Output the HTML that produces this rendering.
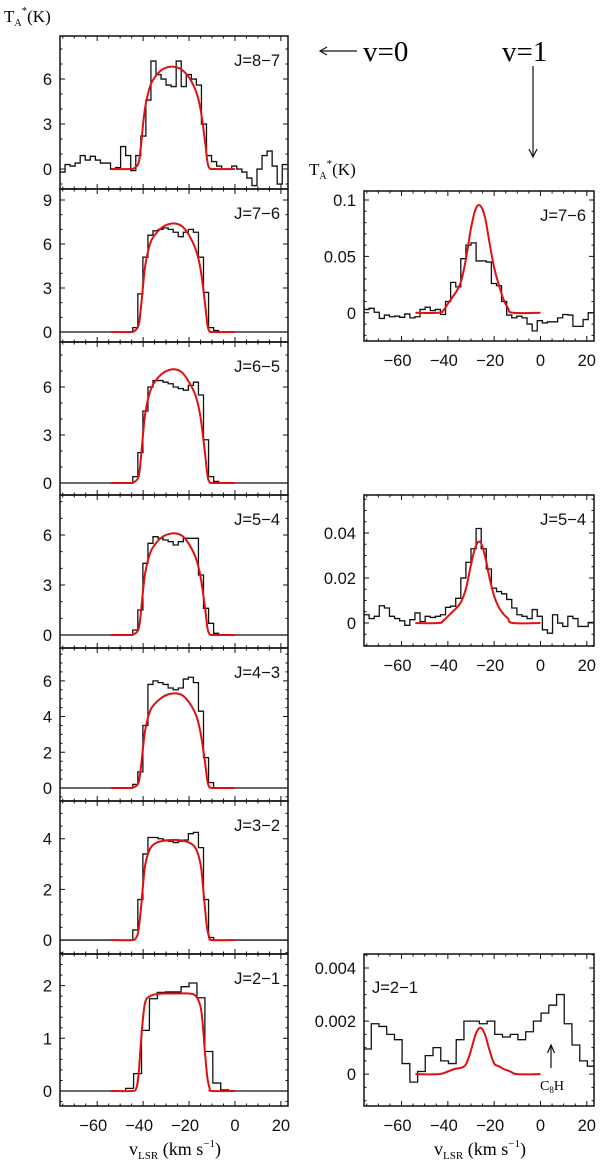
<!DOCTYPE html>
<html><head><meta charset="utf-8"><title>Line profiles</title>
<style>
html,body{margin:0;padding:0;background:#fff;}
svg{display:block;font-family:"Liberation Sans",sans-serif;}
.tk{font-size:16.5px;fill:#111;}
.ser{font-family:"Liberation Serif",serif;}
</style></head>
<body>
<svg id="chart" width="600" height="1165" viewBox="0 0 600 1165" xmlns="http://www.w3.org/2000/svg">
  <g>
    <text class="ser" x="4" y="22" font-size="17">T<tspan font-size="10" dy="4">A</tspan><tspan font-size="11" dy="-12">*</tspan><tspan dy="8">(K)</tspan></text>
    <text class="ser" x="309" y="175" font-size="17">T<tspan font-size="10" dy="4">A</tspan><tspan font-size="11" dy="-12">*</tspan><tspan dy="8">(K)</tspan></text>
    <line x1="357" y1="51" x2="321" y2="51" stroke="#111" stroke-width="1.2"/>
    <path d="M327,47 L320,51 L327,55" fill="none" stroke="#111" stroke-width="1.2"/>
    <text class="ser" x="363" y="61" font-size="29">v=0</text>
    <text class="ser" x="502" y="61" font-size="29">v=1</text>
    <line x1="533" y1="66" x2="533" y2="156" stroke="#111" stroke-width="1.2"/>
    <path d="M529,149 L533,157 L537,149" fill="none" stroke="#111" stroke-width="1.2"/>
  </g>
  <g id="plots"></g>
</svg>
<script>
// ---------- shared axis data ----------
const xTickValues = [-60, -40, -20, 0, 20];
const xTickLabels = ["\u221260", "\u221240", "\u221220", "0", "20"];

// ---------- v=0 spectra (left column) ----------
const j87Vel = [-75.1,-72.9,-70.7,-68.5,-66.3,-64.1,-61.9,-59.7,-57.5,-55.3,-53.1,-50.9,-48.7,-46.5,-44.3,-42.1,-39.9,-37.7,-35.5,-33.3,-31.1,-28.9,-26.7,-24.5,-22.3,-20.1,-17.9,-15.7,-13.5,-11.3,-9.1,-6.9,-4.7,-2.5,-0.3,1.9,4.1,6.3,8.5,10.7,12.9,15.1,17.3,19.5,21.7];
const j87Obs = [-0.2,0.3,0.2,0.4,0.9,0.6,0.85,0.6,0.4,0.4,0.0,0.1,1.5,0.9,-0.1,0.9,2.2,4.6,7.2,6.3,6.0,5.6,5.5,7.2,5.5,6.3,6.0,5.6,3.0,0.9,0.5,0.2,0.0,0.0,0.2,0.0,-0.2,-0.6,-1.1,0.0,0.9,1.2,0.2,-1.0,0.3];

const midVel = [-43.4,-41.2,-39.0,-36.8,-34.6,-32.4,-30.2,-28.0,-25.8,-23.6,-21.4,-19.2,-17.0,-14.8,-12.6,-10.4,-8.2];
const j76Obs = [0.3,2.6,5.1,6.6,6.9,7.0,7.1,7.0,6.8,6.5,6.8,7.0,6.8,5.1,2.7,0.3,0.1];
const j65Obs = [0.4,1.9,4.5,6.0,6.4,6.4,6.3,6.2,6.0,5.9,5.8,6.1,6.3,5.5,2.7,0.4,0.1];
const j54Obs = [0.3,1.5,4.3,5.5,5.9,5.8,5.7,5.6,5.4,5.6,5.8,5.8,5.8,3.6,1.6,0.7,0.1];
const j43Obs = [0.2,0.9,3.5,5.8,6.0,5.9,5.8,5.6,5.5,5.6,6.1,6.2,5.9,4.3,1.7,0.3,0.0];
const j32Obs = [0.4,1.6,3.4,4.05,4.05,4.0,3.95,3.9,3.85,3.9,3.95,4.2,4.25,3.65,1.6,0.1,0.0];
const j21Vel = [-45.9,-42.4,-39.0,-35.5,-32.1,-28.6,-25.2,-21.7,-18.3,-14.8,-11.4,-7.9,-4.5];
const j21Obs = [0.05,0.33,1.15,1.75,1.87,1.88,1.88,1.98,2.05,1.77,0.75,0.15,0.02];

const modelVel = [-54,-46,-44,-42,-41,-40,-39,-37,-35,-32,-29,-26,-23,-20,-17,-15,-13,-12,-11,-9,0];
const j87Model = [0,0,0.05,0.4,1.5,3.0,4.2,5.5,6.1,6.6,6.8,6.8,6.6,6.1,5.2,4.0,1.8,0.5,0.05,0,0];
const j76Model = [0,0,0.05,0.45,1.6,3.2,4.6,6.0,6.6,7.1,7.35,7.4,7.2,6.6,5.6,4.3,1.9,0.5,0.05,0,0];
const j65Model = [0,0,0.05,0.4,1.5,3.1,4.4,5.7,6.3,6.8,7.05,7.1,6.9,6.3,5.4,4.1,1.8,0.5,0.05,0,0];
const j54Model = [0,0,0.05,0.35,1.3,2.7,3.8,4.9,5.4,5.85,6.05,6.1,5.95,5.45,4.6,3.5,1.6,0.45,0.05,0,0];
const j43Model = [0,0,0.04,0.3,1.1,2.3,3.3,4.3,4.7,5.05,5.25,5.3,5.2,4.8,4.1,3.1,1.4,0.4,0.04,0,0];
const flatModelVel = [-54,-45,-43,-42,-41,-40,-39,-37,-34,-30,-25,-20,-17,-15,-14,-13,-12,-11,-10,0];
const j32Model = [0,0,0.1,0.4,1.2,2.2,3.0,3.6,3.85,3.93,3.95,3.85,3.6,3.0,2.2,1.2,0.4,0.1,0,0];
const j21Model = [0,0,0.05,0.3,0.9,1.4,1.7,1.8,1.84,1.85,1.85,1.85,1.8,1.6,1.25,0.7,0.25,0.05,0,0];

// ---------- v=1 spectra (right column) ----------
const v1Vel = j87Vel;
const v1j76Obs = [0.003,0.004,0.0005,-0.005,-0.002,-0.0035,-0.003,-0.004,-0.001,-0.0045,-0.0035,0.003,0.005,0.002,0.003,-0.0015,0.01,0.027,0.023,0.048,0.06,0.062,0.046,0.046,0.045,0.026,0.024,0.01,-0.002,-0.0045,-0.003,-0.0045,-0.01,-0.016,-0.007,-0.009,-0.008,-0.008,-0.0045,-0.0015,-0.002,-0.012,-0.012,-0.006,0.0];
const v1j54Obs = [0.0037,0.002,0.003,0.0077,0.0067,0.003,0.002,0.001,-0.001,0.0015,0.0045,0.0007,0.003,0.0025,0.003,0.0037,0.007,0.0075,0.011,0.02,0.027,0.033,0.042,0.033,0.024,0.0155,0.014,0.013,0.0105,0.0067,0.0037,0.003,0.002,0.006,0.003,-0.003,-0.0045,0.0037,0.0,-0.0015,0.003,0.002,-0.0015,-0.0015,0.0003];
const v1j21Vel = [-74.7,-71.4,-68.1,-64.7,-61.4,-58.1,-54.7,-51.4,-48.1,-44.7,-41.4,-38.1,-34.7,-31.4,-28.1,-24.7,-21.4,-18.1,-14.7,-11.4,-8.1,-4.7,-1.4,1.9,5.3,8.6,11.9,15.3,18.6,21.9];
const v1j21Obs = [0.00095,0.0019,0.0018,0.0015,0.0013,0.0004,-0.0003,0.0001,0.0007,0.001,0.0005,0.0004,0.0013,0.002,0.002,0.0019,0.002,0.0015,0.0014,0.0015,0.0013,0.0016,0.002,0.0023,0.0026,0.003,0.0019,0.0011,0.0005,0.0003];

const v1ModelVel = [-54,-44,-42,-40,-38,-36,-34,-32,-30,-28,-26,-24,-22,-20,-18,-16,-14,-12,0];
const v1j76Model = [0,0,0.002,0.008,0.014,0.02,0.03,0.05,0.075,0.092,0.095,0.085,0.062,0.04,0.025,0.012,0.004,0,0];
const v1j54Model = [0,0,0.001,0.003,0.005,0.007,0.01,0.016,0.026,0.034,0.036,0.03,0.02,0.012,0.007,0.004,0.002,0,0];
const v1j21ModelVel = [-54,-44,-40,-37,-34,-32,-30,-28,-26,-24,-22,-20,-18,-16,-13,-10,0];
const v1j21Model = [0,0,0.0001,0.0002,0.00025,0.0004,0.0009,0.0015,0.00175,0.0015,0.0009,0.0004,0.0003,0.0002,0.0001,0,0];

const yTicksA = [0,3,6];        const yLabelsA = ["0","3","6"];
const yTicksB = [0,3,6,9];      const yLabelsB = ["0","3","6","9"];
const yTicksC = [0,2,4,6];      const yLabelsC = ["0","2","4","6"];
const yTicksD = [0,2,4];        const yLabelsD = ["0","2","4"];
const yTicksE = [0,1,2];        const yLabelsE = ["0","1","2"];
const yTicksR1 = [0,0.05,0.1];  const yLabelsR1 = ["0","0.05","0.1"];
const yTicksR2 = [0,0.02,0.04]; const yLabelsR2 = ["0","0.02","0.04"];
const yTicksR3 = [0,0.002,0.004]; const yLabelsR3 = ["0","0.002","0.004"];

// ---------- layout (not data) ----------
const XMIN = -76.2, XMAX = 23.1;
const panels = [
 {name:"j87-v0",x0:60,x1:288,y0:36,y1:189,ymin:-1.33,ymax:8.87,yt:yTicksA,yl:yLabelsA,minor:1,vel:j87Vel,obs:j87Obs,w:2.2,mv:modelVel,mt:j87Model,label:"J=8\u22127",lx:280,la:"end",xl:false,base:false},
 {name:"j76-v0",x0:60,x1:288,y0:189,y1:342,ymin:-0.68,ymax:9.75,yt:yTicksB,yl:yLabelsB,minor:1,vel:midVel,obs:j76Obs,w:2.2,mv:modelVel,mt:j76Model,label:"J=7\u22126",lx:280,la:"end",xl:false,base:true},
 {name:"j65-v0",x0:60,x1:288,y0:342,y1:495,ymin:-0.75,ymax:8.81,yt:yTicksA,yl:yLabelsA,minor:1,vel:midVel,obs:j65Obs,w:2.2,mv:modelVel,mt:j65Model,label:"J=6\u22125",lx:280,la:"end",xl:false,base:true},
 {name:"j54-v0",x0:60,x1:288,y0:495,y1:648,ymin:-0.78,ymax:8.4,yt:yTicksA,yl:yLabelsA,minor:1,vel:midVel,obs:j54Obs,w:2.2,mv:modelVel,mt:j54Model,label:"J=5\u22124",lx:280,la:"end",xl:false,base:true},
 {name:"j43-v0",x0:60,x1:288,y0:648,y1:801,ymin:-0.73,ymax:7.84,yt:yTicksC,yl:yLabelsC,minor:0.5,vel:midVel,obs:j43Obs,w:2.2,mv:modelVel,mt:j43Model,label:"J=4\u22123",lx:280,la:"end",xl:false,base:true},
 {name:"j32-v0",x0:60,x1:288,y0:801,y1:954,ymin:-0.55,ymax:5.49,yt:yTicksD,yl:yLabelsD,minor:0.5,vel:midVel,obs:j32Obs,w:2.2,mv:flatModelVel,mt:j32Model,label:"J=3\u22122",lx:280,la:"end",xl:false,base:true},
 {name:"j21-v0",x0:60,x1:288,y0:954,y1:1106,ymin:-0.285,ymax:2.6,yt:yTicksE,yl:yLabelsE,minor:0.2,vel:j21Vel,obs:j21Obs,w:3.45,mv:flatModelVel,mt:j21Model,label:"J=2\u22121",lx:280,la:"end",xl:true,base:true},
 {name:"j76-v1",x0:364,x1:594,y0:191,y1:341,ymin:-0.025,ymax:0.108,yt:yTicksR1,yl:yLabelsR1,minor:0.01,vel:v1Vel,obs:v1j76Obs,w:2.2,mv:v1ModelVel,mt:v1j76Model,label:"J=7\u22126",lx:586,la:"end",xl:true,base:false},
 {name:"j54-v1",x0:364,x1:594,y0:495,y1:646,ymin:-0.0102,ymax:0.0569,yt:yTicksR2,yl:yLabelsR2,minor:0.005,vel:v1Vel,obs:v1j54Obs,w:2.2,mv:v1ModelVel,mt:v1j54Model,label:"J=5\u22124",lx:586,la:"end",xl:true,base:false},
 {name:"j21-v1",x0:364,x1:594,y0:954,y1:1106,ymin:-0.0012,ymax:0.00453,yt:yTicksR3,yl:yLabelsR3,minor:0.0005,vel:v1j21Vel,obs:v1j21Obs,w:3.33,mv:v1j21ModelVel,mt:v1j21Model,label:"J=2\u22121",lx:372,la:"start",xl:true,base:false}
];

const NS = "http://www.w3.org/2000/svg";
const root = document.getElementById("plots");
function mk(parent, tag, attrs){
  const e = document.createElementNS(NS, tag);
  for (const k in attrs) e.setAttribute(k, attrs[k]);
  parent.appendChild(e);
  return e;
}
function smoothPath(pts){
  let d = "M" + pts[0][0].toFixed(2) + "," + pts[0][1].toFixed(2);
  for (let i = 0; i < pts.length - 1; i++){
    const p0 = pts[Math.max(i-1,0)], p1 = pts[i], p2 = pts[i+1], p3 = pts[Math.min(i+2,pts.length-1)];
    const t = 0.18;
    const c1x = p1[0] + (p2[0]-p0[0])*t, c1y = p1[1] + (p2[1]-p0[1])*t;
    const c2x = p2[0] - (p3[0]-p1[0])*t, c2y = p2[1] - (p3[1]-p1[1])*t;
    d += " C" + c1x.toFixed(2)+","+c1y.toFixed(2)+" "+c2x.toFixed(2)+","+c2y.toFixed(2)+" "+p2[0].toFixed(2)+","+p2[1].toFixed(2);
  }
  return d;
}

panels.forEach(function(p, idx){
  const X = v => p.x0 + (v - XMIN) / (XMAX - XMIN) * (p.x1 - p.x0);
  const Y = t => p.y1 - (t - p.ymin) / (p.ymax - p.ymin) * (p.y1 - p.y0);
  const g = mk(root, "g", {});
  
  

  const cid = "clip" + idx;
  const cp = mk(g, "clipPath", {id: cid});
  mk(cp, "rect", {x: p.x0, y: p.y0, width: p.x1 - p.x0, height: p.y1 - p.y0});

  let d = "";
  if (p.base) d += "M" + X(XMIN) + "," + Y(0) + " L" + X(p.vel[0] - p.w/2) + "," + Y(0);
  for (let i = 0; i < p.vel.length; i++){
    const a = X(p.vel[i] - p.w/2), b = X(p.vel[i] + p.w/2), y = Y(p.obs[i]);
    if (i === 0 && !p.base) d += "M" + a + "," + y; else d += " L" + a + "," + y;
    d += " L" + b + "," + y;
  }
  if (p.base) d += " L" + X(p.vel[p.vel.length-1] + p.w/2) + "," + Y(0) + " L" + X(XMAX) + "," + Y(0);
  const obs = mk(g, "path", {d: d, fill: "none", stroke: "#111", "stroke-width": 1.3, "clip-path": "url(#" + cid + ")"});
  
  

  const pts = p.mv.map((v, i) => [X(v), Y(p.mt[i])]);
  const mod = mk(g, "path", {d: smoothPath(pts), fill: "none", stroke: "#e01010", "stroke-width": 2, "clip-path": "url(#" + cid + ")"});
  
  

  const fr = mk(g, "rect", {x: p.x0, y: p.y0, width: p.x1 - p.x0, height: p.y1 - p.y0, fill: "none", stroke: "#111", "stroke-width": 1.5});
  
  

  let td = "";
  for (let v = -75; v <= 20; v += 5){
    const x = X(v), L = (v % 20 === 0) ? 5 : 2.5;
    td += "M" + x + "," + p.y1 + " v" + (-L) + " M" + x + "," + p.y0 + " v" + L + " ";
  }
  const nMin = Math.ceil(p.ymin / p.minor - 1e-6), nMax = Math.floor(p.ymax / p.minor + 1e-6);
  const majorStep = p.yt[1] - p.yt[0];
  for (let n = nMin; n <= nMax; n++){
    const t = n * p.minor, y = Y(t);
    const isMaj = Math.abs(t / majorStep - Math.round(t / majorStep)) < 1e-6;
    const L = isMaj ? 5 : 2.5;
    td += "M" + p.x0 + "," + y + " h" + L + " M" + p.x1 + "," + y + " h" + (-L) + " ";
  }
  const tk = mk(g, "path", {d: td, stroke: "#111", "stroke-width": 1, fill: "none"});
  
  

  p.yt.forEach(function(t, i){
    const tx = mk(g, "text", {x: p.x0 - 8, y: Y(t) + 6, "text-anchor": "end", class: "tk"});
    tx.textContent = p.yl[i];
    
    
  });

  if (p.xl){
    xTickValues.forEach(function(v, i){
      const tx = mk(g, "text", {x: X(v) - (v < 0 ? 4 : 0), y: p.y1 + 25, "text-anchor": "middle", class: "tk"});
      tx.textContent = xTickLabels[i];
      
      
    });
  }

  const lb = mk(g, "text", {x: p.lx, y: p.name === "j21-v1" ? p.y0 + 39 : p.y0 + 30, "text-anchor": p.la, class: "tk", "font-size": 16});
  lb.textContent = p.label;
  
  
});

[175, 480].forEach(function(cx, i){
  const t = mk(root, "text", {x: cx, y: 1155, "text-anchor": "middle", class: "ser", "font-size": 18});
  
  
  t.innerHTML = 'v<tspan font-size="11" dy="4">LSR</tspan><tspan dy="-4"> (km s</tspan><tspan font-size="11" dy="-8">\u22121</tspan><tspan dy="8">)</tspan>';
});

const arr = mk(root, "path", {d: "M551,1068 V1046 M547.5,1053 L551,1045 L554.5,1053", fill: "none", stroke: "#111", "stroke-width": 1.2});


const c8 = mk(root, "text", {x: 540, y: 1090, class: "ser", "font-size": 14});


c8.innerHTML = 'C<tspan font-size="9" dy="3">8</tspan><tspan dy="-3">H</tspan>';
</script>
</body></html>
